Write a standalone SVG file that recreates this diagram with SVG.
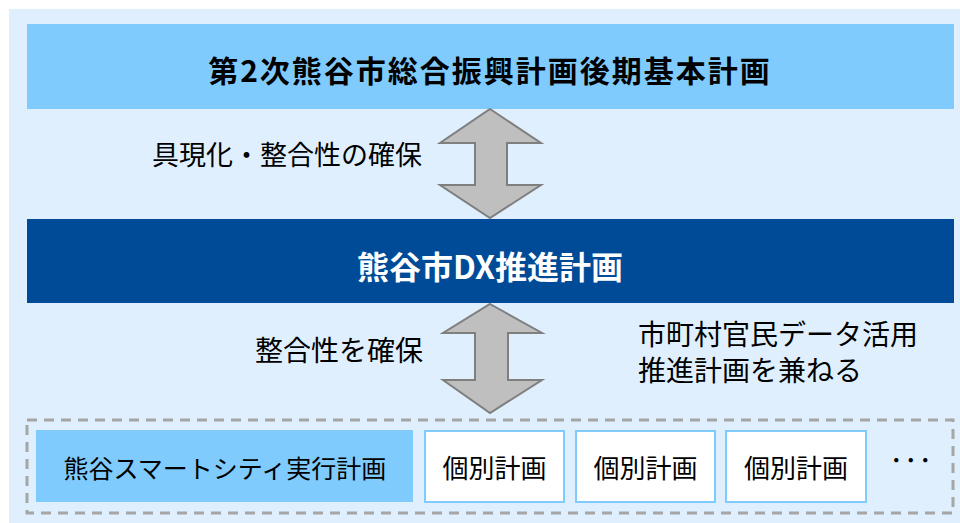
<svg xmlns="http://www.w3.org/2000/svg" width="960" height="523" viewBox="0 0 960 523">
<style>
text{font-family:"Noto Sans CJK JP","Noto Sans CJK SC",sans-serif;fill:#000;text-anchor:middle}
.b{font-weight:700}
.arrow{fill:#BFBFBF;stroke:#7F7F7F;stroke-width:2;stroke-linejoin:miter}
.plan{fill:#FFFFFF;stroke:#80CBFD;stroke-width:2}
</style>
<rect x="9" y="9" width="951" height="514" fill="#DFEFFD"/>
<g id="top-plan">
<rect x="27" y="24" width="927" height="85" fill="#80CBFD"/>
<text class="b" x="490" y="82" font-size="30" letter-spacing="2">第2次熊谷市総合振興計画後期基本計画</text>
</g>
<g id="dx-plan">
<rect x="27" y="219" width="927" height="84" fill="#004B98"/>
<text class="b" x="490" y="279" font-size="32" style="fill:#fff">熊谷市DX推進計画</text>
</g>
<g id="connectors">
<path class="arrow" d="M490,109 L541,143 L507,143 L507,185 L541,185 L490,218 L440,185 L475,185 L475,143 L440,143 Z"/>
<path class="arrow" d="M490,304 L542,333 L508,333 L508,380 L542,380 L490,413 L443,380 L475,380 L475,333 L443,333 Z"/>
</g>
<g id="label1"><text x="287" y="165" font-size="27">具現化・整合性の確保</text></g>
<g id="label2"><text x="339" y="361" font-size="28">整合性を確保</text></g>
<g id="label3">
<text x="638" y="345" font-size="28" style="text-anchor:start">市町村官民データ活用</text>
<text x="638" y="381" font-size="28" style="text-anchor:start">推進計画を兼ねる</text>
</g>
<g id="group">
<rect x="27" y="420" width="926" height="93" fill="none" stroke="#A6A6A6" stroke-width="3" stroke-dasharray="10,7"/>
</g>
<g id="smart-city">
<rect x="36" y="430" width="377" height="72" fill="#80CBFD"/>
<text x="225" y="478" font-size="25">熊谷スマートシティ実行計画</text>
</g>
<g id="plan1"><rect class="plan" x="425" y="431" width="139" height="71"/><text x="494.5" y="478" font-size="26">個別計画</text></g>
<g id="plan2"><rect class="plan" x="576" y="431" width="139" height="71"/><text x="645.5" y="478" font-size="26">個別計画</text></g>
<g id="plan3"><rect class="plan" x="726" y="431" width="140" height="71"/><text x="796" y="478" font-size="26">個別計画</text></g>
<g id="more"><text x="908" y="468" font-size="20" letter-spacing="-5.5">・・・</text></g>
</svg>
